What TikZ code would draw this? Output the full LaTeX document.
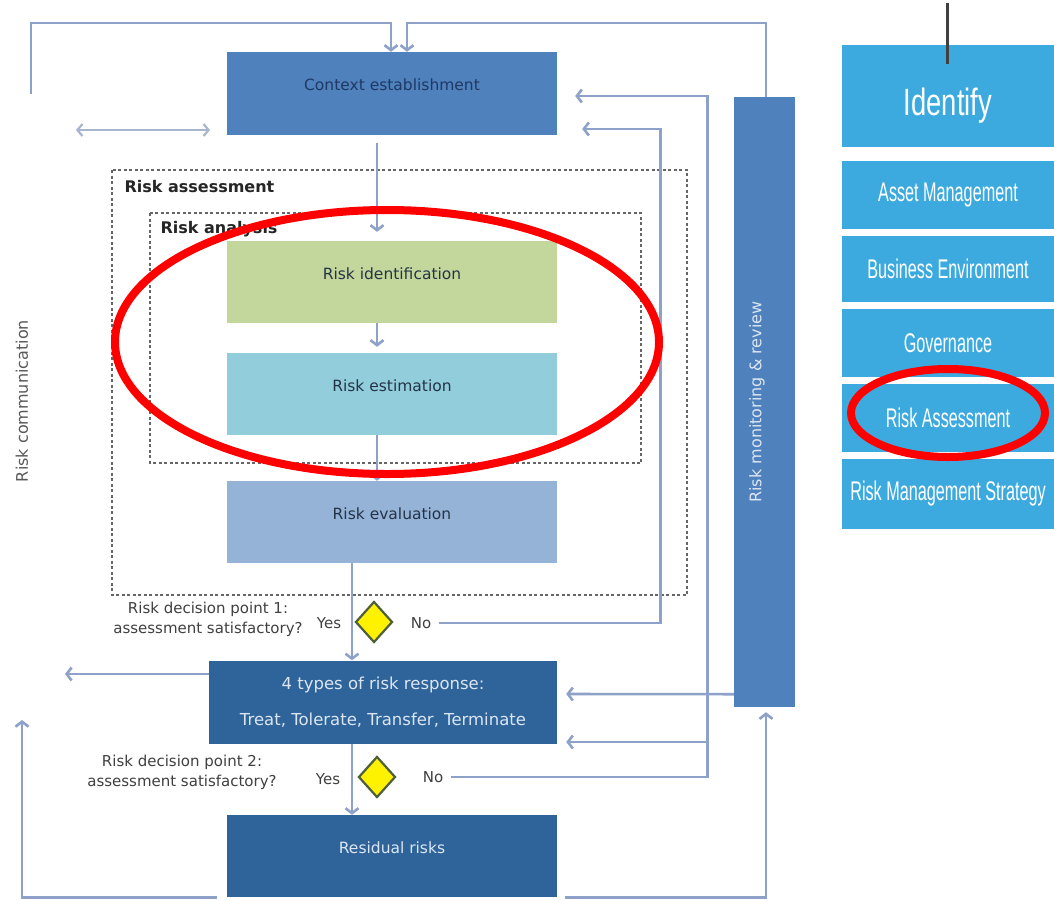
\documentclass[tikz,border=0pt]{standalone}
\usepackage{fontspec}
\setmainfont{DejaVu Sans}
\newfontfamily\panelfont{Liberation Sans}
\usetikzlibrary{arrows.meta,shapes.geometric,calc}

\definecolor{ctxblue}{HTML}{4F81BD}
\definecolor{ctxtext}{HTML}{1F3864}
\definecolor{identgreen}{HTML}{C3D69B}
\definecolor{estimcyan}{HTML}{92CDDC}
\definecolor{evalblue}{HTML}{95B3D7}
\definecolor{deepblue}{HTML}{2F649A}
\definecolor{lighttext}{HTML}{DCE6F2}
\definecolor{darktext}{HTML}{243447}
\definecolor{linkblue}{HTML}{8EA2C9}
\definecolor{linkgray}{HTML}{A8B5CC}
\definecolor{dashgray}{HTML}{666666}
\definecolor{diamondedge}{HTML}{4F5F3A}
\definecolor{notegray}{HTML}{404040}
\definecolor{commgray}{HTML}{595959}
\definecolor{panelblue}{HTML}{3DAADF}
\definecolor{stemgray}{HTML}{404040}

\begin{document}
\begin{tikzpicture}[x=1pt,y=-1pt,
  conn/.style={draw=linkblue, line width=2.6pt},
  arr/.style={conn, -{Straight Barb[length=5pt,width=13pt]}},
  dblarr/.style={draw=linkgray, line width=2.2pt,
    {Straight Barb[length=5pt,width=12pt]}-{Straight Barb[length=5pt,width=12pt]}},
  boxbase/.style={minimum width=330pt, minimum height=82pt, inner sep=0pt,
    font=\fontsize{15.5}{18}\selectfont},
  stepbox/.style={boxbase, text height=11pt, text depth=17pt},
  group/.style={draw=dashgray, line width=1.3pt, dash pattern=on 3pt off 2.5pt},
  grouplabel/.style={anchor=west, font=\bfseries\fontsize{16}{19}\selectfont, text=black!85},
  decision/.style={diamond, fill=yellow, draw=diamondedge, line width=2.2pt,
    minimum width=37pt, minimum height=41pt, inner sep=0pt},
  note/.style={font=\fontsize{15}{20}\selectfont, text=notegray, align=center},
  panel/.style={fill=panelblue, minimum width=212pt, inner sep=0pt, text=white,
    font=\panelfont\fontsize{27}{30}\selectfont},
  highlight/.style={draw=red, line width=8pt}
]
\useasboundingbox (0,0) rectangle (1054,900);
\fill[white] (0,0) rectangle (1054,900);

% dashed groupings
\draw[group] (112,170) rectangle (687,595);
\draw[group] (150,213) rectangle (641,463);
\node[grouplabel] (assesslabel) at (121,187) {Risk assessment};
\node[grouplabel] (analysislabel) at (157,229) {Risk analysis};

% process steps
\node[stepbox, fill=ctxblue, text=ctxtext, minimum height=83pt] (ctx) at (392,93.5) {Context establishment};
\node[stepbox, fill=identgreen, text=darktext] (ident) at (392,282) {Risk identification};
\node[stepbox, fill=estimcyan, text=darktext] (estim) at (392,394) {Risk estimation};
\node[stepbox, fill=evalblue, text=darktext] (eval) at (392,522) {Risk evaluation};
\node[boxbase, fill=deepblue, text=lighttext, minimum width=348pt, minimum height=83pt, align=center,
  font=\fontsize{16.5}{19}\selectfont]
  (resp) at (383,702) {4 types of risk response:\\[17pt]Treat, Tolerate, Transfer, Terminate};
\node[stepbox, fill=deepblue, text=lighttext] (resid) at (392,856) {Residual risks};

% monitoring bar
\node[fill=ctxblue, minimum width=61pt, minimum height=610pt, inner sep=0pt] (mon) at (764.5,402) {};
\node[rotate=90, font=\fontsize{16}{19}\selectfont, text=lighttext] (monlabel) at (757,402) {Risk monitoring \& review};

% communication label
\node[rotate=90, font=\fontsize{16}{19}\selectfont, text=commgray] (comm) at (22,401) {Risk communication};

% decision points
\node[decision] (dp1) at (374,622) {};
\node[decision] (dp2) at (377,777) {};
\node[note] (q1) at (208,619) {Risk decision point 1:\\assessment satisfactory?};
\node[note] (q2) at (182,772) {Risk decision point 2:\\assessment satisfactory?};
\node[note] (yes1) at (329,623) {Yes};
\node[note] (no1) at (421,623) {No};
\node[note] (yes2) at (328,779) {Yes};
\node[note] (no2) at (433,777) {No};

% feedback into context establishment
\coordinate (commTop) at (31,94);
\coordinate (bendL) at (391,23);
\coordinate (bendR) at (407,23);
\draw[arr] (commTop) |- (bendL) -- (bendL |- ctx.north);
\draw[arr] ($(mon.north)+(1.5,0)$) |- (bendR) -- (bendR |- ctx.north);
\coordinate (ddl) at (76,130);
\coordinate (ddr) at (210,130);
\draw[dblarr] (ddl) -- (ddr);

% main flow
\draw[arr, shorten <=8pt, shorten >=9pt] ($(ctx.south)+(-15,0)$) -- ($(ident.north)+(-15,0)$);
\draw[arr, shorten >=6pt] ($(ident.south)+(-15,0)$) -- ($(estim.north)+(-15,0)$);
\draw[arr] ($(estim.south)+(-15,0)$) -- ($(eval.north)+(-15,0)$);
\draw[arr] ($(eval.south)+(-40,0)$) -- ($(resp.north)+(-31,0)$);
\draw[arr] ($(resp.south)+(-31,0)$) -- ($(resid.north)+(-40,0)$);

% "No" loops
\draw[arr, shorten >=25pt] ([xshift=4pt]no1.east) -| ($(ctx.east)+(103,35.5)$) -- ($(ctx.east)+(0,35.5)$);
\draw[arr, shorten >=18pt] ([xshift=4pt]no2.east) -| ($(ctx.east)+(150,2.5)$) -- ($(ctx.east)+(0,2.5)$);
\draw[arr, shorten >=9pt] ($(resp.east)+(150,40)$) -- ($(resp.east)+(0,40)$);

% monitoring links
\draw[arr, shorten >=9pt] ($(mon.south west)+(0,-13)$) -- ($(resp.east)+(0,-8)$);
\draw[arr, shorten >=5pt] ($(resid.south east)+(8,0)$) -| ($(mon.south)+(1.5,0)$);

% outgoing communication
\coordinate (commBot) at (22,720);
\draw[arr, shorten <=10pt] (resid.south west) -| (commBot);
\coordinate (respOut) at (65,674);
\draw[arr] ($(resp.west)+(0,-28)$) -- (respOut);

% framework panel
\node[panel, minimum height=102pt, text height=38pt, text depth=0pt] (identify) at (948,96)
  {\scalebox{0.72}[1]{\fontsize{38}{40}\selectfont Identify}};
\node[panel, minimum height=68pt] (asset) at (948,195) {\scalebox{0.6}[1]{Asset Management}};
\node[panel, minimum height=66pt] (busenv) at (948,269) {\scalebox{0.6}[1]{Business Environment}};
\node[panel, minimum height=68pt] (gov) at (948,343) {\scalebox{0.6}[1]{Governance}};
\node[panel, minimum height=68pt] (riskassess) at (948,418) {\scalebox{0.6}[1]{Risk Assessment}};
\node[panel, minimum height=70pt] (rms) at (948,494) {\scalebox{0.6}[1]{Risk Management Strategy}};
\coordinate (stemTop) at (947,3);
\draw[draw=stemgray, line width=3pt] (stemTop) -- (stemTop |- identify.north) -- ++(0,19);

% highlights
\draw[highlight] (387,342) ellipse [x radius=272pt, y radius=132pt];
\draw[highlight] (948,413) ellipse [x radius=97pt, y radius=44pt];
\end{tikzpicture}
\end{document}
